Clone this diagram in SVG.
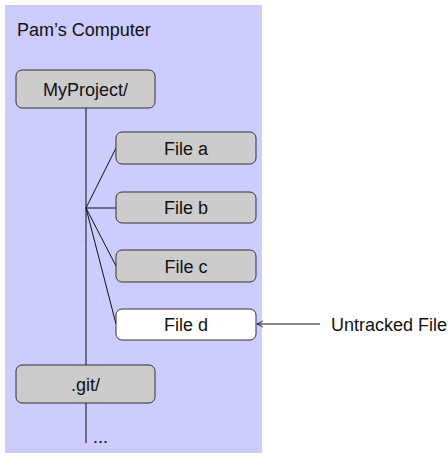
<svg xmlns="http://www.w3.org/2000/svg" width="448" height="456" viewBox="0 0 448 456">
<style>
text{font-family:"Liberation Sans",Arial,sans-serif;font-size:18px;fill:#111}
.box{fill:#cccccc;stroke:#333;stroke-width:1}
.w{fill:#ffffff;stroke:#333;stroke-width:1}
.c{stroke:#111;stroke-width:1;fill:none}
</style>
<defs><marker id="ah" viewBox="0 0 8 8" refX="7" refY="4" markerWidth="8" markerHeight="8" markerUnits="userSpaceOnUse" orient="auto"><path d="M1,1 L7,4 L1,7" fill="none" stroke="#111" stroke-width="0.8"/></marker></defs>
<rect x="5" y="5" width="257" height="448" fill="#ccccff"/>
<text x="17" y="36">Pam’s Computer</text>
<g id="connectors">
<line class="c" x1="86" y1="108" x2="86" y2="365"/>
<line class="c" x1="86" y1="403" x2="86" y2="443"/>
<line class="c" x1="86" y1="208" x2="116" y2="148"/>
<line class="c" x1="86" y1="208" x2="116" y2="208"/>
<line class="c" x1="86" y1="208" x2="116" y2="266"/>
<line class="c" x1="86" y1="208" x2="116" y2="324"/>
<line class="c" x1="320" y1="324" x2="257" y2="324" marker-end="url(#ah)"/>
</g>
<g id="myproject"><rect class="box" x="16" y="70" width="139" height="38" rx="6"/><text x="85.5" y="95.5" text-anchor="middle">MyProject/</text></g>
<g id="filea"><rect class="box" x="116" y="132" width="140" height="32" rx="6"/><text x="186" y="154.5" text-anchor="middle">File a</text></g>
<g id="fileb"><rect class="box" x="116" y="192" width="140" height="31" rx="6"/><text x="186" y="214" text-anchor="middle">File b</text></g>
<g id="filec"><rect class="box" x="116" y="250" width="140" height="32" rx="6"/><text x="186" y="272.5" text-anchor="middle">File c</text></g>
<g id="filed"><rect class="w" x="116" y="309" width="140" height="31" rx="6"/><text x="186" y="331" text-anchor="middle">File d</text></g>
<g id="git"><rect class="box" x="16" y="365" width="139" height="38" rx="6"/><text x="85.5" y="390.5" text-anchor="middle">.git/</text></g>
<g id="dots"><text x="93" y="443">...</text></g>
<g id="untracked"><text x="331" y="331">Untracked File</text></g>
</svg>
